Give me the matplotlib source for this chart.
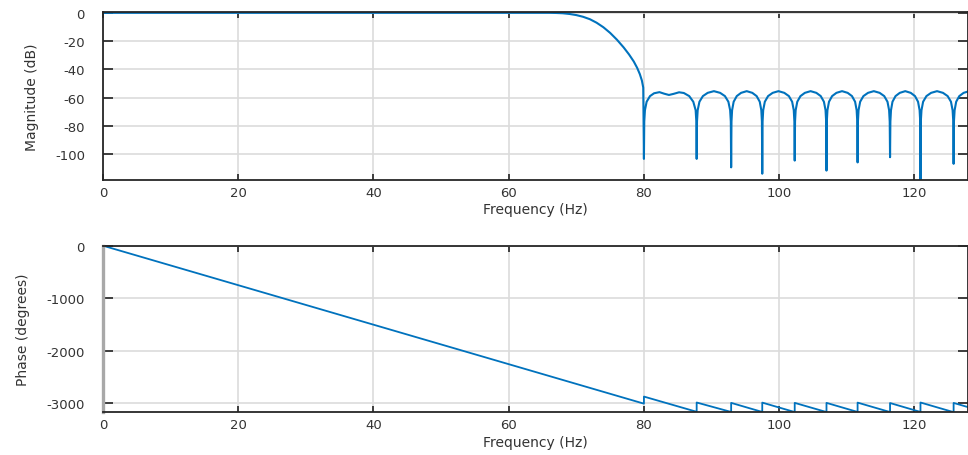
import numpy as np
import matplotlib.pyplot as plt

plt.rcParams['axes.unicode_minus'] = False

# ----------------------------------------------------
# 1. Datos leídos de la respuesta en frecuencia del filtro

# Magnitud (dB): banda de paso y transición
f_paso = [0, 20, 40, 60, 66, 67, 68, 69, 70, 71, 72, 73, 74, 75, 76, 77, 77.8, 78.5, 79.0,
          79.4, 79.7, 79.9]
db_paso = [0, 0, 0, 0, 0, -0.1, -0.3, -0.8, -1.6, -2.8, -4.5, -7, -10.2, -14.2, -19, -24.5,
           -29.5, -34.5, -39, -43.5, -48, -53]

# Magnitud (dB): banda de rechazo (lóbulos laterales entre ceros)
f_rechazo = [80.0, 80.05, 80.15, 80.4, 80.9, 81.5, 82.3, 83.0, 83.7, 84.4, 85.2, 85.9, 86.7, 87.3, 87.65, 87.75,
             87.8, 87.85, 87.95, 88.21, 88.72, 89.43, 90.35, 91.27, 91.98, 92.49, 92.75, 92.85,
             92.9, 92.95, 93.04, 93.27, 93.73, 94.37, 95.2, 96.03, 96.67, 97.13, 97.36, 97.45,
             97.5, 97.55, 97.64, 97.88, 98.36, 99.04, 99.9, 100.76, 101.44, 101.92, 102.16, 102.25,
             102.3, 102.35, 102.44, 102.68, 103.15, 103.8, 104.65, 105.5, 106.15, 106.62, 106.86, 106.95,
             107.0, 107.05, 107.14, 107.37, 107.83, 108.47, 109.3, 110.13, 110.77, 111.23, 111.46, 111.55,
             111.6, 111.65, 111.74, 111.98, 112.46, 113.14, 114.0, 114.86, 115.54, 116.02, 116.26, 116.35,
             116.4, 116.45, 116.54, 116.76, 117.21, 117.84, 118.65, 119.46, 120.09, 120.54, 120.77, 120.86,
             120.9, 120.95, 121.05, 121.29, 121.78, 122.47, 123.35, 124.23, 124.92, 125.41, 125.65, 125.75,
             125.8, 125.85, 125.95, 126.18, 126.64, 127.28, 128.1, 129.0]
db_rechazo = [-103.5, -77, -69, -63, -59, -57, -56.2, -57.3, -58.2, -57.4, -56.3, -56.8, -59, -63, -69, -77,
              -103.5, -77, -69, -63, -59, -56.7, -55.5, -56.7, -59, -63, -69, -77,
              -109.5, -77, -69, -63, -59, -56.7, -55.5, -56.7, -59, -63, -69, -77,
              -114, -77, -69, -63, -59, -56.7, -55.5, -56.7, -59, -63, -69, -77,
              -104.7, -77, -69, -63, -59, -56.7, -55.5, -56.7, -59, -63, -69, -77,
              -111.8, -77, -69, -63, -59, -56.7, -55.5, -56.7, -59, -63, -69, -77,
              -106, -77, -69, -63, -59, -56.7, -55.5, -56.7, -59, -63, -69, -77,
              -102.3, -77, -69, -63, -59, -56.7, -55.5, -56.7, -59, -63, -69, -77,
              -125, -77, -69, -63, -59, -56.7, -55.5, -56.7, -59, -63, -69, -77,
              -107, -77, -69, -63, -59, -56.7, -55.5, -56.7]

# Fase (grados): recta hasta 80 Hz y luego diente de sierra
f_fase = [0, 80.0, 80.0, 87.8, 87.8, 92.9, 92.9, 97.5, 97.5, 102.3, 102.3, 107.0, 107.0,
          111.6, 111.6, 116.4, 116.4, 120.9, 120.9, 125.8, 125.8, 129.0]
fase_deg = [0, -3010, -2875, -3165, -2988, -3168, -2995, -3168, -2990, -3170, -2995,
            -3170, -2995, -3168, -2990, -3170, -2998, -3168, -2988, -3172, -2996, -3116]

x_ticks = [0, 20, 40, 60, 80, 100, 120]
mag_ticks = [0, -20, -40, -60, -80, -100]
fase_ticks = [0, -1000, -2000, -3000]

f_mag = np.concatenate([f_paso, f_rechazo])
mag_db = np.concatenate([db_paso, db_rechazo])

# ----------------------------------------------------
# 2. Gráfico

azul = '#0072BD'
texto = '#333333'

fig = plt.figure(figsize=(9.68, 4.56), dpi=100)
ax1 = fig.add_axes([0.1064, 0.602, 0.8941, 0.3689])
ax2 = fig.add_axes([0.1064, 0.0936, 0.8941, 0.3654])

ax1.plot(f_mag, mag_db, color=azul, lw=1.5)
ax2.plot(f_fase, fase_deg, color=azul, lw=1.3)

ax1.set_ylim(-118.8, 0.4)
ax2.set_ylim(-3175, 0)
ax1.set_yticks(mag_ticks)
ax2.set_yticks(fase_ticks)

for ax in (ax1, ax2):
    ax.set_xlim(0, 128)
    ax.set_xticks(x_ticks)
    ax.grid(True, color='#dcdcdc', lw=1.2)
    ax.set_axisbelow(True)
    ax.tick_params(axis='both', direction='in', top=True, right=True,
                   width=1.2, color='#222222', labelcolor=texto, labelsize=9.5)
    ax.tick_params(axis='x', length=4, pad=4)
    ax.tick_params(axis='y', length=7.5, pad=13)
    for lado in ax.spines.values():
        lado.set_color('#262626')
        lado.set_linewidth(1.3)
    ax.set_xlabel('Frequency (Hz)', fontsize=10, color=texto, va='center')

ax2.spines['left'].set_color('#a8a8a8')
ax2.spines['left'].set_linewidth(2.4)

ax1.set_ylabel('Magnitude (dB)', fontsize=10, color=texto, va='center')
ax2.set_ylabel('Phase (degrees)', fontsize=10, color=texto, va='center')
ax1.yaxis.set_label_coords(-0.082, 0.5)
ax2.yaxis.set_label_coords(-0.093, 0.5)
ax1.xaxis.set_label_coords(0.5, -0.169)
ax2.xaxis.set_label_coords(0.5, -0.181)

plt.savefig('out.png', dpi=100)
